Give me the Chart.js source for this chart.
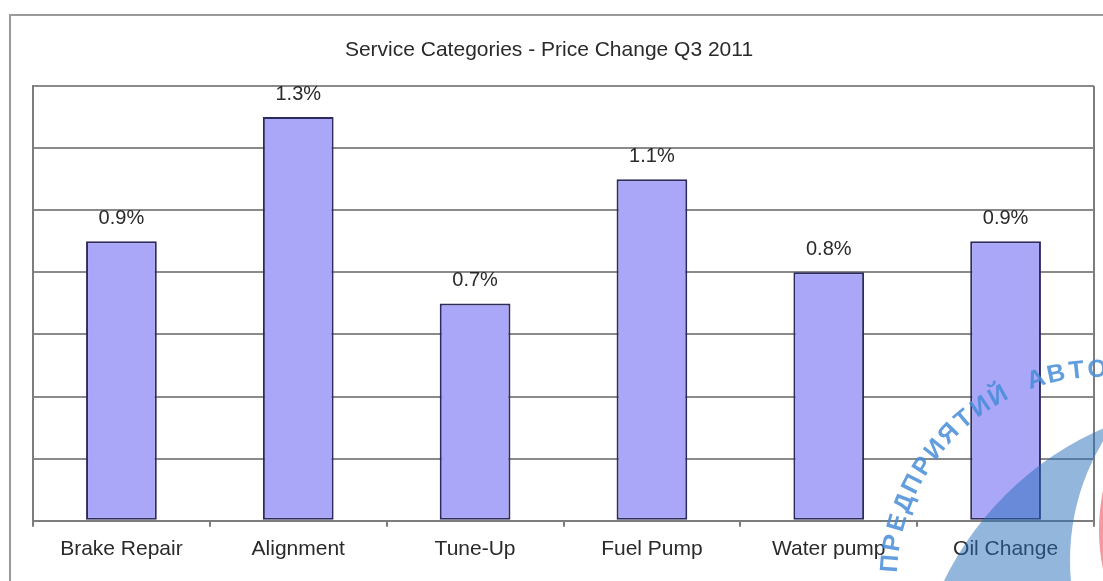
<!DOCTYPE html>
<html>
<head>
<meta charset="utf-8">
<script src="https://cdn.jsdelivr.net/npm/chart.js@4.4.1/dist/chart.umd.min.js"></script>
<style>
  body { margin: 0; background: #fff; }
  #wrap { width: 1103px; height: 581px; }
</style>
</head>
<body>
<div id="wrap"><canvas id="priceChart" width="1103" height="581"></canvas></div>
<script>
// chart data
const categories = ['Brake Repair', 'Alignment', 'Tune-Up', 'Fuel Pump', 'Water pump', 'Oil Change'];
const priceChange = [0.9, 1.3, 0.7, 1.1, 0.8, 0.9];
const valueLabels = ['0.9%', '1.3%', '0.7%', '1.1%', '0.8%', '0.9%'];
const chartTitle = 'Service Categories - Price Change Q3 2011';
const yMin = 0;
const yMax = 1.4;
const yStep = 0.2;

// stamp text across the lower right corner
const stampText = 'ПРЕДПРИЯТИЙ АВТО';

const FONT = '"Liberation Sans", Arial, Helvetica, sans-serif';

// white background, outer frame of the sheet, and the title
// (title sits a bit left of the plot centre, so it is drawn by hand)
const framePlugin = {
  id: 'frame',
  beforeDraw(chart) {
    const ctx = chart.ctx;
    ctx.save();
    ctx.fillStyle = '#fff';
    ctx.fillRect(0, 0, chart.width, chart.height);
    ctx.strokeStyle = '#9a9a9a';
    ctx.lineWidth = 2;
    ctx.beginPath();
    ctx.moveTo(10, chart.height);
    ctx.lineTo(10, 15);
    ctx.lineTo(chart.width, 15);
    ctx.stroke();

    ctx.font = '21px ' + FONT;
    ctx.fillStyle = '#2a2a2a';
    ctx.textAlign = 'center';
    ctx.textBaseline = 'middle';
    ctx.fillText(chartTitle, 549, 50);
    ctx.restore();
  },
  beforeDatasetsDraw(chart) {
    // right edge of the plot box
    const { ctx, chartArea } = chart;
    ctx.save();
    ctx.strokeStyle = '#7d7d7d';
    ctx.lineWidth = 2;
    ctx.beginPath();
    ctx.moveTo(chartArea.right, chartArea.top);
    ctx.lineTo(chartArea.right, chartArea.bottom);
    ctx.stroke();
    ctx.restore();
  }
};

// percent labels above the bars
const valueLabelPlugin = {
  id: 'valueLabels',
  afterDatasetsDraw(chart) {
    const ctx = chart.ctx;
    const meta = chart.getDatasetMeta(0);
    ctx.save();
    ctx.font = '20px ' + FONT;
    ctx.fillStyle = '#2a2a2a';
    ctx.textAlign = 'center';
    ctx.textBaseline = 'middle';
    meta.data.forEach((bar, i) => {
      ctx.fillText(valueLabels[i], bar.x, bar.y - 23);
    });
    ctx.restore();
  }
};

// rough copy of the stamp sitting on top of the picture
const stampPlugin = {
  id: 'stamp',
  afterDraw(chart) {
    const ctx = chart.ctx;
    ctx.save();

    // blue crescent
    ctx.save();
    ctx.beginPath();
    ctx.arc(1230, 720, 318, 0, Math.PI * 2);
    ctx.clip();
    ctx.beginPath();
    ctx.rect(0, 0, chart.width, chart.height);
    ctx.arc(1300, 560, 230, 0, Math.PI * 2);
    ctx.fillStyle = 'rgba(40, 110, 185, 0.5)';
    ctx.fill('evenodd');
    ctx.restore();

    // red ring edge
    ctx.beginPath();
    ctx.arc(1295, 530, 190, 0, Math.PI * 2);
    ctx.strokeStyle = 'rgba(235, 70, 80, 0.55)';
    ctx.lineWidth = 12;
    ctx.stroke();

    // text along the arc
    const cx = 1100, cy = 580, r = 210;
    let ang = -175.5 * Math.PI / 180;
    const step = 5.65 * Math.PI / 180;
    ctx.font = 'bold 25px ' + FONT;
    ctx.fillStyle = 'rgba(70, 140, 215, 0.85)';
    ctx.textAlign = 'center';
    ctx.textBaseline = 'middle';
    for (const ch of stampText) {
      ctx.save();
      ctx.translate(cx + r * Math.cos(ang), cy + r * Math.sin(ang));
      ctx.rotate(ang + Math.PI / 2);
      ctx.fillText(ch, 0, 0);
      ctx.restore();
      ang += step;
    }
    ctx.restore();
  }
};

const ctx = document.getElementById('priceChart');

new Chart(ctx, {
  type: 'bar',
  data: {
    labels: categories,
    datasets: [
      {
        label: 'Price Change',
        data: priceChange,
        backgroundColor: '#aaa6f8',
        borderColor: '#2d2a5c',
        borderWidth: 2,
        borderSkipped: false,
        barPercentage: 0.4,
        categoryPercentage: 1
      }
    ]
  },
  options: {
    responsive: false,
    animation: false,
    devicePixelRatio: 1,
    layout: { padding: { left: 33, right: 9, top: 86, bottom: 9 } },
    plugins: {
      legend: { display: false },
      tooltip: { enabled: false },
      title: { display: false }
    },
    scales: {
      x: {
        grid: { drawOnChartArea: false, drawTicks: true, tickLength: 6, color: '#7d7d7d', lineWidth: 2 },
        border: { display: true, color: '#7d7d7d', width: 2 },
        ticks: { color: '#2a2a2a', font: { family: FONT, size: 21 }, padding: 10, maxRotation: 0 }
      },
      y: {
        min: yMin,
        max: yMax,
        ticks: { display: false, stepSize: yStep },
        grid: { color: '#8a8a8a', lineWidth: 2, drawTicks: false },
        border: { display: true, color: '#7d7d7d', width: 2 }
      }
    }
  },
  plugins: [framePlugin, valueLabelPlugin, stampPlugin]
});
</script>
</body>
</html>
